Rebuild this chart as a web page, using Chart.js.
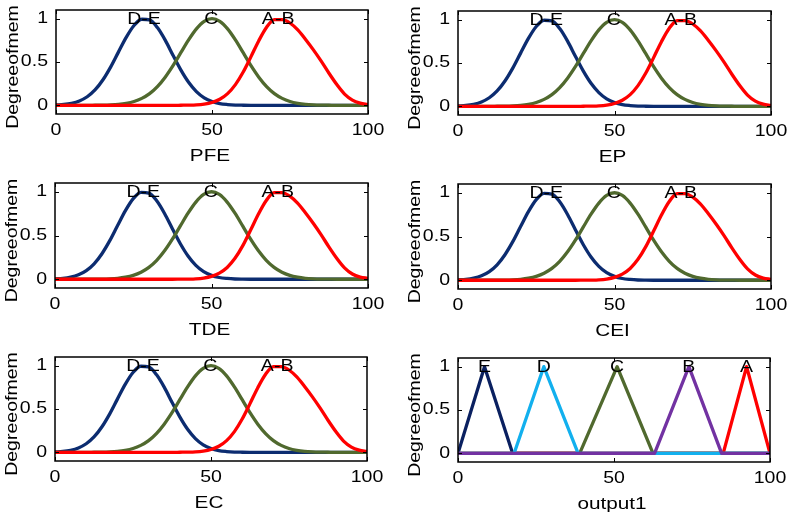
<!DOCTYPE html>
<html><head><meta charset="utf-8">
<script src="https://cdn.jsdelivr.net/npm/chart.js@4.4.1/dist/chart.umd.min.js"></script>
<style>
html,body{margin:0;padding:0;background:#fff;}
#wrap{position:relative;width:792px;height:514px;overflow:hidden;background:#fff;}
#wrap canvas{position:absolute;}
</style></head><body><div id="wrap"></div>
<script>
// ---------- data ----------
const xGrid = [0,2.5,5,7.5,10,12.5,15,17.5,20,22.5,25,27.5,30,32.5,35,37.5,40,42.5,45,47.5,50,52.5,55,57.5,60,62.5,65,67.5,70,72.5,75,77.5,80,82.5,85,87.5,90,92.5,95,97.5,100];
const mfDE = [0.004,0.010,0.024,0.051,0.099,0.177,0.292,0.441,0.614,0.784,0.921,0.993,0.985,0.897,0.752,0.578,0.409,0.266,0.159,0.087,0.044,0.020,0.009,0.003,0.001,0,0,0,0,0,0,0,0,0,0,0,0,0,0,0,0];
const mfC  = [0,0,0,0,0,0.001,0.002,0.005,0.011,0.023,0.044,0.080,0.135,0.216,0.325,0.458,0.607,0.755,0.882,0.969,1,0.969,0.882,0.755,0.607,0.458,0.325,0.216,0.135,0.080,0.044,0.023,0.011,0.005,0.002,0.001,0,0,0,0,0];
const mfAB = [0,0,0,0,0,0,0,0,0,0,0,0,0,0,0,0,0.001,0.002,0.005,0.014,0.033,0.070,0.135,0.239,0.384,0.562,0.746,0.901,0.99,0.99,0.95,0.87,0.76,0.64,0.51,0.37,0.24,0.13,0.06,0.025,0.01];
const gaussLabels = ['D-E','C','A-B'];
const gaussCenters = [28.2,49.8,71.2];
const inputNames = ['PFE','EP','TDE','CEI','EC'];

const outE_x = [0,8.5,17.5,100],        outE_y = [0,1,0,0];
const outD_x = [0,18,27.5,38.5,100],    outD_y = [0,0,1,0,0];
const outC_x = [0,39,51,62.5,100],      outC_y = [0,0,1,0,0];
const outB_x = [0,63,74,84.5,100],      outB_y = [0,0,1,0,0];
const outA_x = [0,85,92.5,100],         outA_y = [0,0,1,0];
const outLabels = ['E','D','C','B','A'];
const outName = 'output1';

const xTicks = [0,50,100], xTickLabels = ['0','50','100'];
const yTicks = [0,0.5,1],  yTickLabels = ['0','0.5','1'];
const yTitle = 'Degreeofmem';

// ---------- style / layout ----------
const C_NAVY = '#0c2c70', C_GREEN = '#50692e', C_RED = '#ff0000';
const C_NAVY2 = '#0a2060', C_SKY = '#12b0ee', C_PURPLE = '#7232a2';
const SX = 1.22;
const FONT = '"Liberation Sans", Arial, sans-serif';
const panels = [
  {cell:[0,0,396,172],   box:[56,10,368,114]},
  {cell:[396,0,396,172], box:[458,11,771,115]},
  {cell:[0,172,396,172], box:[55,183,368,288]},
  {cell:[396,172,396,172], box:[458,184,771,289]},
  {cell:[0,344,396,170], box:[55,357,367,461]},
  {cell:[396,344,396,170], box:[458,358,770,462]}
];

function txt(ctx, s, x, y, align, base, size, rot) {
  ctx.save();
  ctx.translate(x, y);
  if (rot) ctx.rotate(rot);
  ctx.scale(SX, 1);
  ctx.font = size + 'px ' + FONT;
  ctx.textAlign = align; ctx.textBaseline = base; ctx.fillStyle = '#000';
  ctx.fillText(s, 0, 0);
  ctx.restore();
}

const axesPlugin = {
  id: 'mAxes',
  afterDraw(chart, args, o) {
    const ctx = chart.ctx, a = chart.chartArea, xs = chart.scales.x, ys = chart.scales.y;
    ctx.save();
    ctx.strokeStyle = '#000';
    ctx.lineWidth = 1.5;
    ctx.strokeRect(a.left, a.top, a.right - a.left, a.bottom - a.top);
    ctx.lineWidth = 1;
    ctx.beginPath();
    yTicks.forEach(v => {
      const p = Math.round(ys.getPixelForValue(v)) + 0.5;
      ctx.moveTo(a.left, p); ctx.lineTo(a.left + 4, p);
      ctx.moveTo(a.right, p); ctx.lineTo(a.right - 4, p);
    });
    xTicks.forEach(v => {
      const p = Math.round(xs.getPixelForValue(v)) + 0.5;
      ctx.moveTo(p, a.bottom); ctx.lineTo(p, a.bottom - 4);
      ctx.moveTo(p, a.top); ctx.lineTo(p, a.top + 4);
    });
    ctx.stroke();
    ctx.restore();
    yTicks.forEach((v, i) => txt(ctx, yTickLabels[i], a.left - 8, ys.getPixelForValue(v), 'right', 'middle', 16));
    xTicks.forEach((v, i) => txt(ctx, xTickLabels[i], xs.getPixelForValue(v), a.bottom + 17, 'center', 'middle', 16));
    txt(ctx, o.title, (a.left + a.right) / 2 - 2, a.bottom + 42, 'center', 'middle', 17);
    txt(ctx, yTitle, a.left - 42, (a.top + a.bottom) / 2 + 5, 'center', 'middle', 16, -Math.PI / 2);
    o.labels.forEach(l => txt(ctx, l.text, xs.getPixelForValue(l.x), ys.getPixelForValue(1) + 5, 'center', 'alphabetic', 16));
  }
};

function pts(xs, ys) { return xs.map((x, i) => ({x: x, y: ys[i]})); }

function makeChart(p, datasets, title, labels) {
  const [cx, cy, cw, ch] = p.cell, [l, t, r, b] = p.box;
  const cv = document.createElement('canvas');
  cv.width = cw; cv.height = ch;
  cv.style.left = cx + 'px'; cv.style.top = cy + 'px';
  cv.style.width = cw + 'px'; cv.style.height = ch + 'px';
  document.getElementById('wrap').appendChild(cv);
  new Chart(cv.getContext('2d'), {
    type: 'line',
    data: {datasets: datasets},
    options: {
      responsive: false, animation: false, devicePixelRatio: 1, events: [],
      layout: {padding: {left: l - cx, top: t - cy, right: cx + cw - r, bottom: cy + ch - b}},
      scales: {
        x: {type: 'linear', display: false, min: 0, max: 100},
        y: {type: 'linear', display: false, min: -0.1, max: 1.1}
      },
      elements: {point: {radius: 0}, line: {borderWidth: 3.3, borderJoinStyle: 'round'}},
      plugins: {legend: {display: false}, tooltip: {enabled: false}, mAxes: {title: title, labels: labels}}
    },
    plugins: [axesPlugin]
  });
}

// gaussian input panels
inputNames.forEach((name, i) => {
  const ds = [
    {data: pts(xGrid, mfDE), borderColor: C_NAVY,  cubicInterpolationMode: 'monotone', order: 2},
    {data: pts(xGrid, mfC),  borderColor: C_GREEN, cubicInterpolationMode: 'monotone', order: 1},
    {data: pts(xGrid, mfAB), borderColor: C_RED,   cubicInterpolationMode: 'monotone', order: 0}
  ];
  const labels = gaussLabels.map((t, k) => ({text: t, x: gaussCenters[k]}));
  makeChart(panels[i], ds, name, labels);
});

// output panel
const outX = [outE_x, outD_x, outC_x, outB_x, outA_x];
const outY = [outE_y, outD_y, outC_y, outB_y, outA_y];
const outColors = [C_NAVY2, C_SKY, C_GREEN, C_PURPLE, C_RED];
const outOrder = [4, 1, 2, 0, 3];
const outDs = outX.map((xs, k) => ({data: pts(xs, outY[k]), borderColor: outColors[k], tension: 0, order: outOrder[k]}));
const outLbl = outLabels.map((t, k) => ({text: t, x: outX[k][outY[k].indexOf(1)]}));
makeChart(panels[5], outDs, outName, outLbl);
</script></body></html>
